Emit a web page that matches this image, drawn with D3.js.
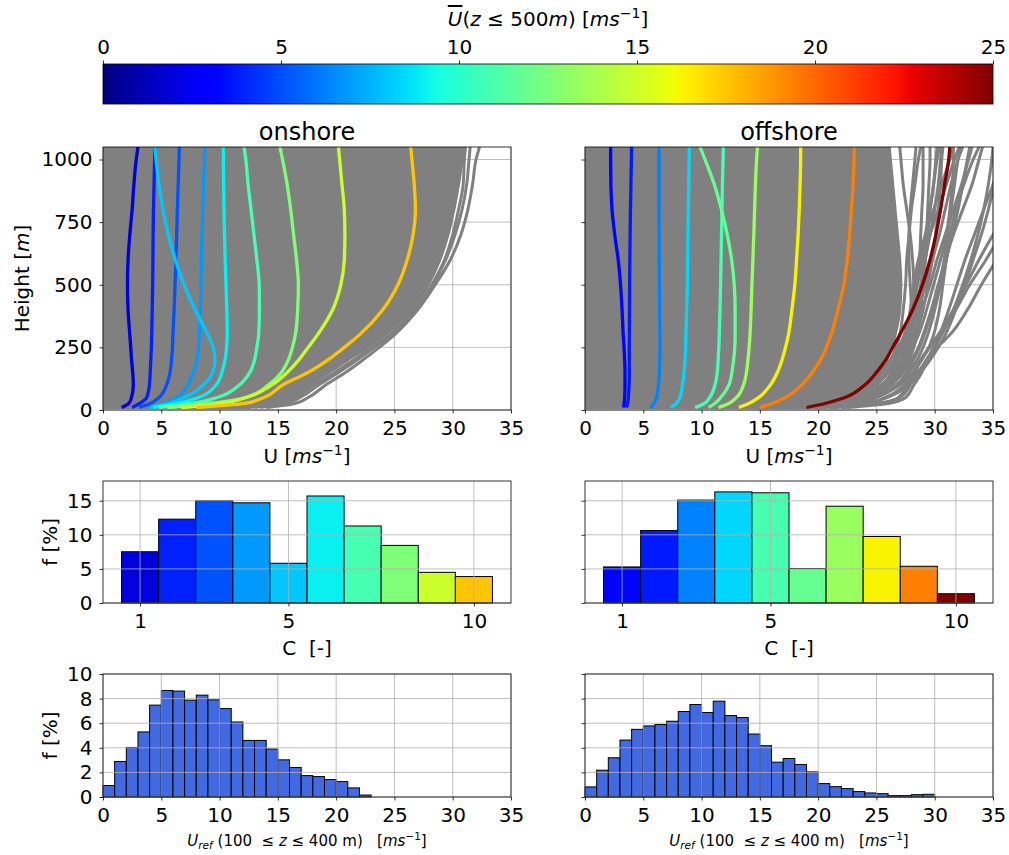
<!DOCTYPE html>
<html>
<head>
<meta charset="utf-8">
<script src="https://cdn.jsdelivr.net/npm/d3@7"></script>
<style>
  body { margin: 0; background: #fff; }
  text { font-family: "DejaVu Sans", sans-serif; fill: #000; }
</style>
</head>
<body>
<svg id="fig" width="1009" height="855"></svg>
<script>
// ---------------------------------------------------------------
// Data
// ---------------------------------------------------------------
// Heights [m] at which every wind profile is given
const heights = [10, 25, 50, 100, 150, 200, 250, 300, 400, 500, 600, 700, 800, 900, 1000, 1050];

// Mean wind speed below 500 m of each cluster (sets the cluster colour)
const onshoreClusterMean  = [2.0, 3.9, 5.1, 6.9, 8.0, 9.0, 10.9, 12.6, 14.9, 17.5];
const offshoreClusterMean = [3.2, 3.75, 6.3, 8.4, 10.9, 11.85, 13.4, 16.3, 19.4, 25.0];

// Cluster-centroid profiles U(z) [m/s], one row per cluster C = 1..10
const onshoreProfiles = [
  [1.6, 2.2, 2.45, 2.6, 2.55, 2.45, 2.38, 2.3, 2.15, 2.1, 2.15, 2.3, 2.5, 2.65, 2.85, 3.0],
  [2.5, 3.1, 3.75, 3.98, 4.05, 4.1, 4.15, 4.18, 4.22, 4.26, 4.28, 4.3, 4.33, 4.38, 4.43, 4.46],
  [3.1, 4.0, 4.8, 5.45, 5.75, 5.88, 5.96, 6.0, 6.1, 6.18, 6.25, 6.32, 6.38, 6.45, 6.52, 6.55],
  [3.9, 5.2, 6.35, 7.3, 7.75, 8.05, 8.2, 8.27, 8.35, 8.4, 8.45, 8.5, 8.56, 8.62, 8.7, 8.75],
  [4.0, 5.5, 7.0, 8.6, 9.4, 9.6, 9.45, 9.0, 7.9, 6.95, 6.2, 5.6, 5.15, 4.8, 4.55, 4.46],
  [4.3, 6.3, 8.2, 9.7, 10.2, 10.47, 10.6, 10.66, 10.62, 10.55, 10.48, 10.42, 10.38, 10.35, 10.33, 10.32],
  [4.8, 7.5, 9.8, 11.7, 12.6, 13.0, 13.2, 13.35, 13.42, 13.4, 13.2, 12.95, 12.7, 12.45, 12.25, 12.1],
  [5.5, 8.9, 12.2, 14.2, 15.3, 15.9, 16.25, 16.5, 16.7, 16.76, 16.6, 16.35, 16.1, 15.8, 15.4, 15.18],
  [6.7, 10.0, 12.3, 14.5, 15.8, 16.8, 17.6, 18.4, 19.7, 20.4, 20.7, 20.75, 20.7, 20.5, 20.3, 20.2],
  [8.0, 12.0, 13.8, 15.4, 17.6, 19.3, 20.7, 22.0, 24.0, 25.3, 26.1, 26.6, 26.8, 26.7, 26.5, 26.4]
];
const offshoreProfiles = [
  [3.3, 3.35, 3.4, 3.43, 3.43, 3.4, 3.35, 3.28, 3.18, 3.05, 2.85, 2.55, 2.32, 2.22, 2.2, 2.2],
  [3.55, 3.65, 3.72, 3.78, 3.8, 3.8, 3.8, 3.81, 3.82, 3.83, 3.85, 3.87, 3.9, 3.94, 3.98, 4.0],
  [5.6, 5.9, 6.15, 6.3, 6.38, 6.42, 6.43, 6.43, 6.4, 6.38, 6.37, 6.36, 6.35, 6.35, 6.35, 6.35],
  [7.35, 7.8, 8.15, 8.35, 8.5, 8.58, 8.63, 8.66, 8.72, 8.78, 8.81, 8.83, 8.86, 8.9, 8.93, 8.95],
  [9.45, 10.2, 10.7, 11.15, 11.35, 11.42, 11.48, 11.52, 11.58, 11.63, 11.67, 11.71, 11.75, 11.79, 11.84, 11.87],
  [10.6, 11.1, 11.65, 12.35, 12.6, 12.75, 12.85, 12.88, 12.88, 12.8, 12.58, 12.2, 11.7, 11.1, 10.3, 9.87],
  [11.45, 12.3, 13.0, 13.6, 13.85, 13.98, 14.08, 14.15, 14.25, 14.32, 14.4, 14.48, 14.55, 14.62, 14.72, 14.8],
  [13.2, 14.0, 14.9, 15.9, 16.5, 16.9, 17.2, 17.45, 17.75, 18.0, 18.15, 18.28, 18.38, 18.45, 18.5, 18.5],
  [15.0, 16.0, 17.2, 18.6, 19.5, 20.2, 20.7, 21.1, 21.7, 22.2, 22.5, 22.7, 22.85, 23.0, 23.08, 23.1],
  [19.0, 20.5, 22.3, 24.0, 25.0, 25.8, 26.4, 27.0, 28.1, 28.95, 29.6, 30.1, 30.5, 30.85, 31.2, 31.3]
];

// Upper edge of the dense bundle of individual profiles (bundle starts at U = 0)
const onshoreBundleEdge  = [12.5, 15.0, 16.2, 17.7, 19.4, 21.0, 22.7, 24.2, 26.5, 27.9, 28.9, 29.6, 30.1, 30.5, 30.8, 30.9];
const offshoreBundleEdge = [19.0, 21.0, 22.8, 24.5, 25.3, 25.9, 26.3, 26.6, 27.0, 27.1, 27.0, 26.8, 26.6, 26.4, 26.2, 26.1];

// Individual profiles outside the dense bundle
const onshoreOuterProfiles = [
  [14.0, 16.4, 17.6, 19.1, 20.8, 22.3, 23.7, 25.0, 27.0, 28.5, 29.8, 30.7, 31.3, 31.7, 32.0, 32.3],
  [13.5, 15.6, 16.9, 18.5, 20.2, 21.8, 23.3, 24.7, 26.8, 28.3, 29.4, 30.2, 30.8, 31.2, 31.4, 31.5],
  [13.0, 15.2, 16.5, 18.1, 19.9, 21.5, 23.1, 24.6, 26.8, 28.2, 29.3, 30.0, 30.5, 30.9, 31.0, 31.1]
];
const offshoreOuterProfiles = [
  [19.0, 21.5, 23.2, 25.0, 26.0, 26.8, 27.3, 27.7, 28.2, 28.5, 28.7, 28.8, 28.9, 29.0, 29.0, 29.0],
  [20.0, 22.5, 24.0, 25.8, 26.8, 27.5, 28.0, 28.4, 29.0, 29.4, 29.8, 30.1, 30.3, 30.5, 30.6, 30.7],
  [19.5, 22.0, 23.8, 25.5, 26.3, 26.8, 27.2, 27.5, 27.9, 28.2, 28.6, 29.2, 29.9, 30.6, 31.3, 31.6],
  [21.0, 23.5, 25.0, 26.8, 27.8, 28.5, 29.0, 29.4, 30.0, 30.5, 31.0, 31.5, 32.0, 32.4, 32.8, 33.0],
  [20.5, 23.0, 24.5, 26.2, 27.2, 27.8, 28.2, 28.5, 28.8, 29.0, 29.2, 29.4, 29.6, 29.9, 30.2, 30.4],
  [22.0, 25.0, 27.0, 27.9, 28.3, 28.8, 29.5, 30.3, 31.6, 32.7, 33.8, 35.0, 36.2, 37.0, 37.5, 37.8],
  [22.5, 25.9, 27.5, 28.2, 28.9, 29.3, 30.2, 31.3, 32.8, 34.0, 35.3, 36.5, 37.5, 38.0, 38.2, 38.3],
  [22.0, 25.0, 26.9, 27.6, 28.2, 28.8, 29.6, 30.4, 31.8, 33.0, 34.4, 35.6, 36.5, 37.0, 37.2, 37.3],
  [21.5, 24.2, 25.8, 27.4, 28.5, 29.3, 30.0, 30.6, 31.6, 32.4, 33.1, 33.7, 34.2, 34.6, 34.9, 35.0],
  [20.0, 22.8, 24.5, 26.3, 27.3, 28.0, 28.6, 29.0, 29.7, 30.3, 30.9, 31.6, 32.4, 33.2, 33.8, 34.1],
  [18.8, 21.5, 23.0, 24.8, 25.8, 26.5, 27.0, 27.4, 28.0, 28.5, 29.0, 29.6, 30.3, 31.0, 31.7, 32.1],
  [19.5, 22.2, 24.0, 25.9, 26.9, 27.6, 28.1, 28.6, 29.3, 29.9, 30.5, 31.0, 31.3, 31.5, 31.6, 31.6],
  [20.5, 23.2, 25.0, 27.0, 28.1, 28.9, 29.5, 29.9, 30.4, 30.7, 31.0, 31.3, 31.8, 32.5, 33.3, 33.8],
  [18.0, 20.8, 22.6, 24.5, 25.5, 26.2, 26.7, 27.0, 27.3, 27.5, 27.6, 27.8, 28.0, 28.3, 28.6, 28.8],
  [21.0, 24.0, 25.8, 27.6, 28.6, 29.3, 29.9, 30.4, 31.2, 31.9, 32.6, 33.4, 34.2, 35.0, 35.6, 36.0],
  [19.0, 21.8, 23.5, 25.4, 26.4, 27.1, 27.6, 28.0, 28.6, 29.2, 29.8, 30.4, 30.9, 31.4, 32.0, 32.4],
  [18.5, 21.0, 22.9, 24.9, 26.0, 26.8, 27.4, 27.8, 28.4, 28.8, 29.1, 29.3, 29.4, 29.5, 29.6, 29.6],
  [19.8, 22.4, 24.2, 26.1, 27.1, 27.7, 28.1, 28.4, 28.7, 28.9, 29.2, 29.6, 30.0, 30.3, 30.5, 30.6],
  [20.2, 22.9, 24.8, 26.7, 27.6, 28.2, 28.7, 29.1, 29.8, 30.4, 30.8, 31.1, 31.4, 31.7, 32.0, 32.2],
  [18.2, 20.6, 22.4, 24.3, 25.4, 26.2, 26.9, 27.4, 28.0, 28.4, 28.8, 29.2, 29.6, 29.9, 30.1, 30.2],
  [21.2, 24.0, 25.9, 27.8, 28.8, 29.6, 30.3, 30.9, 31.8, 32.6, 33.3, 34.0, 34.6, 35.1, 35.5, 35.7],
  [19.2, 21.9, 23.7, 25.6, 26.6, 27.3, 27.8, 28.2, 28.9, 29.6, 30.2, 30.9, 31.6, 32.3, 32.9, 33.2],
  [18.6, 21.2, 23.0, 24.9, 25.9, 26.6, 27.1, 27.5, 28.0, 28.2, 28.1, 27.9, 27.6, 27.3, 27.1, 27.0],
  [19.4, 22.0, 23.8, 25.7, 26.7, 27.3, 27.7, 27.9, 28.0, 27.9, 27.8, 27.8, 27.9, 28.1, 28.3, 28.4]
];

// Cluster frequency f [%] for C = 1..10
const clusterIds = [1, 2, 3, 4, 5, 6, 7, 8, 9, 10];
const onshoreFreq  = [7.52, 12.3, 15.0, 14.7, 5.83, 15.7, 11.3, 8.45, 4.5, 3.88];
const offshoreFreq = [5.29, 10.63, 15.1, 16.3, 16.17, 5.05, 14.2, 9.76, 5.39, 1.36];

// Histogram of U_ref in 1 m/s bins starting at 0
const onshoreUrefFreq = [0.93, 2.89, 4.03, 5.29, 7.47, 8.66, 8.61, 7.87, 8.28, 7.90, 7.19, 6.10,
  4.60, 4.60, 3.90, 3.02, 2.40, 1.74, 1.66, 1.42, 1.25, 0.74, 0.16];
const offshoreUrefFreq = [0.82, 2.18, 3.19, 4.63, 5.50, 5.78, 5.89, 6.16, 6.95, 7.52, 6.87, 7.79,
  6.62, 6.46, 5.12, 4.17, 2.83, 3.13, 2.64, 2.04, 1.09, 0.84, 0.68, 0.44, 0.33, 0.27, 0.11, 0.11,
  0.19, 0.22];

// Tick values
const speedTicks   = [0, 5, 10, 15, 20, 25, 30, 35];
const heightTicks  = [0, 250, 500, 750, 1000];
const clusterTicks = [1, 5, 10];
const freqTicks    = [0, 5, 10, 15];
const urefFreqTicks = [0, 2, 4, 6, 8, 10];
const colorbarTicks = [0, 5, 10, 15, 20, 25];

// ---------------------------------------------------------------
// Jet colour map
// ---------------------------------------------------------------
const jetR = [[0, 0], [0.35, 0], [0.66, 1], [0.89, 1], [1, 0.5]];
const jetG = [[0, 0], [0.125, 0], [0.375, 1], [0.64, 1], [0.91, 0], [1, 0]];
const jetB = [[0, 0.5], [0.11, 1], [0.34, 1], [0.65, 0], [1, 0]];
function channel(seg, t) {
  t = Math.max(0, Math.min(1, t));
  for (let i = 1; i < seg.length; i++) {
    if (t <= seg[i][0]) {
      const [x0, y0] = seg[i - 1], [x1, y1] = seg[i];
      return y0 + (y1 - y0) * (t - x0) / (x1 - x0);
    }
  }
  return seg[seg.length - 1][1];
}
function jet(t) {
  return d3.rgb(255 * channel(jetR, t), 255 * channel(jetG, t), 255 * channel(jetB, t)).formatHex();
}
const colorScale = d3.scaleLinear().domain([0, 25]).range([0, 1]);
const clusterColor = u => jet(colorScale(u));

// ---------------------------------------------------------------
// Layout
// ---------------------------------------------------------------
const svg = d3.select("#fig");
const cols = [{ x0: 103, x1: 511 }, { x0: 585, x1: 993 }];
const rowTop = { y0: 147, y1: 410 };
const rowMid = { y0: 481, y1: 603 };
const rowBot = { y0: 674, y1: 797 };
const TICK = 3.5, PAD = 7, FS = 20;
const gridColor = "#b0b0b0";
const fmt = d3.format("d");

function styleAxis(g, showLabels) {
  g.select(".domain").remove();
  g.selectAll(".tick line").attr("stroke", "#000").attr("stroke-width", 0.8);
  g.selectAll(".tick text").attr("font-size", FS).attr("font-family", "DejaVu Sans").attr("fill", "#000");
  if (!showLabels) g.selectAll(".tick text").remove();
}
function frame(g, c, r) {
  g.append("rect").attr("x", c.x0).attr("y", r.y0).attr("width", c.x1 - c.x0).attr("height", r.y1 - r.y0)
    .attr("fill", "none").attr("stroke", "#000").attr("stroke-width", 0.8);
}
function grid(g, x, y, xt, yt, c, r) {
  const gg = g.append("g");
  gg.selectAll("line.v").data(xt).join("line")
    .attr("x1", d => x(d)).attr("x2", d => x(d)).attr("y1", r.y0).attr("y2", r.y1)
    .attr("stroke", gridColor).attr("stroke-width", 0.8);
  gg.selectAll("line.h").data(yt).join("line")
    .attr("x1", c.x0).attr("x2", c.x1).attr("y1", d => y(d)).attr("y2", d => y(d))
    .attr("stroke", gridColor).attr("stroke-width", 0.8);
}
function axes(g, x, y, xt, yt, r, yLabels) {
  const ax = g.append("g").attr("transform", `translate(0,${r.y1})`)
    .call(d3.axisBottom(x).tickValues(xt).tickFormat(fmt).tickSizeInner(TICK).tickSizeOuter(0).tickPadding(PAD));
  styleAxis(ax, true);
  const ay = g.append("g").attr("transform", `translate(${x.range()[0]},0)`)
    .call(d3.axisLeft(y).tickValues(yt).tickFormat(fmt).tickSizeInner(TICK).tickSizeOuter(0).tickPadding(PAD));
  styleAxis(ay, yLabels);
}

// Unit label "[ms^-1]" appended as tspans
function appendUnit(t, fs) {
  t.append("tspan").text("[");
  t.append("tspan").attr("font-style", "italic").text("ms");
  t.append("tspan").attr("font-size", fs * 0.7).attr("dy", -fs * 0.4).text("−1");
  t.append("tspan").attr("dy", fs * 0.4).text("]");
}

// ---------------------------------------------------------------
// Colour bar
// ---------------------------------------------------------------
const cb = { x0: 103, x1: 993, y0: 64, y1: 104 };
const defs = svg.append("defs");
const grad = defs.append("linearGradient").attr("id", "jetGrad").attr("x1", "0%").attr("x2", "100%");
d3.range(0, 1.0001, 0.01).forEach(t => {
  grad.append("stop").attr("offset", `${t * 100}%`).attr("stop-color", jet(t));
});
svg.append("rect").attr("x", cb.x0).attr("y", cb.y0).attr("width", cb.x1 - cb.x0).attr("height", cb.y1 - cb.y0)
  .attr("fill", "url(#jetGrad)").attr("stroke", "#000").attr("stroke-width", 0.8);
const cbScale = d3.scaleLinear().domain([0, 25]).range([cb.x0, cb.x1]);
const cbAxis = svg.append("g").attr("transform", `translate(0,${cb.y0})`)
  .call(d3.axisTop(cbScale).tickValues(colorbarTicks).tickFormat(fmt).tickSizeInner(TICK).tickSizeOuter(0).tickPadding(PAD));
styleAxis(cbAxis, true);
{
  const t = svg.append("text").attr("x", (cb.x0 + cb.x1) / 2).attr("y", 26).attr("text-anchor", "middle")
    .attr("font-size", FS).style("white-space", "pre");
  t.append("tspan").attr("font-style", "italic").style("text-decoration", "overline").text("U");
  t.append("tspan").text("(");
  t.append("tspan").attr("font-style", "italic").text("z");
  t.append("tspan").text(" ≤ 500");
  t.append("tspan").attr("font-style", "italic").text("m");
  t.append("tspan").text(") ");
  appendUnit(t, FS);
}

// ---------------------------------------------------------------
// Row 1: wind profiles
// ---------------------------------------------------------------
const profileSets = [
  { title: "onshore", profiles: onshoreProfiles, means: onshoreClusterMean, edge: onshoreBundleEdge, outer: onshoreOuterProfiles },
  { title: "offshore", profiles: offshoreProfiles, means: offshoreClusterMean, edge: offshoreBundleEdge, outer: offshoreOuterProfiles }
];
profileSets.forEach((set, i) => {
  const c = cols[i];
  const g = svg.append("g");
  const x = d3.scaleLinear().domain([0, 35]).range([c.x0, c.x1]);
  const y = d3.scaleLinear().domain([0, 1050]).range([rowTop.y1, rowTop.y0]);
  const clipId = `clipTop${i}`;
  defs.append("clipPath").attr("id", clipId).append("rect")
    .attr("x", c.x0).attr("y", rowTop.y0).attr("width", c.x1 - c.x0).attr("height", rowTop.y1 - rowTop.y0);

  grid(g, x, y, speedTicks, heightTicks, c, rowTop);

  const plot = g.append("g").attr("clip-path", `url(#${clipId})`);
  const grey = "#808080";

  // dense bundle of individual profiles
  const bundle = d3.area().curve(d3.curveMonotoneY)
    .y(d => y(d.z)).x0(() => x(0)).x1(d => x(d.u));
  plot.append("path").datum(heights.map((z, k) => ({ z, u: set.edge[k] })))
    .attr("d", bundle).attr("fill", grey).attr("stroke", grey).attr("stroke-width", 3);

  const line = d3.line().curve(d3.curveMonotoneY).x(d => x(d.u)).y(d => y(d.z));
  set.outer.forEach(p => {
    plot.append("path").datum(heights.map((z, k) => ({ z, u: p[k] })))
      .attr("d", line).attr("fill", "none").attr("stroke", grey).attr("stroke-width", 3)
      .attr("stroke-linejoin", "round");
  });

  // cluster centroids
  set.profiles.forEach((p, k) => {
    plot.append("path").datum(heights.map((z, j) => ({ z, u: p[j] })))
      .attr("d", line).attr("fill", "none").attr("stroke", clusterColor(set.means[k]))
      .attr("stroke-width", 3.3).attr("stroke-linejoin", "round");
  });

  frame(g, c, rowTop);
  axes(g, x, y, speedTicks, heightTicks, rowTop, i === 0);

  g.append("text").attr("x", (c.x0 + c.x1) / 2).attr("y", 140).attr("text-anchor", "middle")
    .attr("font-size", 24).text(set.title);

  const xl = g.append("text").attr("x", (c.x0 + c.x1) / 2).attr("y", 463).attr("text-anchor", "middle")
    .attr("font-size", FS).style("white-space", "pre");
  xl.append("tspan").text("U ");
  appendUnit(xl, FS);

  if (i === 0) {
    const yl = g.append("text").attr("transform", `translate(29,${(rowTop.y0 + rowTop.y1) / 2}) rotate(-90)`)
      .attr("text-anchor", "middle").attr("font-size", FS);
    yl.append("tspan").text("Height [");
    yl.append("tspan").attr("font-style", "italic").text("m");
    yl.append("tspan").text("]");
  }
});

// ---------------------------------------------------------------
// Row 2: cluster frequency
// ---------------------------------------------------------------
[[onshoreFreq, onshoreClusterMean], [offshoreFreq, offshoreClusterMean]].forEach(([freq, means], i) => {
  const c = cols[i];
  const g = svg.append("g");
  const x = d3.scaleLinear().domain([0, 11]).range([c.x0, c.x1]);
  const y = d3.scaleLinear().domain([0, 17.9]).range([rowMid.y1, rowMid.y0]);

  g.selectAll("rect.bar").data(clusterIds).join("rect")
    .attr("x", d => x(d - 0.5)).attr("width", d => x(d + 0.5) - x(d - 0.5))
    .attr("y", (d, k) => y(freq[k])).attr("height", (d, k) => y(0) - y(freq[k]))
    .attr("fill", (d, k) => clusterColor(means[k])).attr("stroke", "#000").attr("stroke-width", 1);

  grid(g, x, y, clusterTicks, freqTicks, c, rowMid);
  frame(g, c, rowMid);
  axes(g, x, y, clusterTicks, freqTicks, rowMid, i === 0);

  g.append("text").attr("x", (c.x0 + c.x1) / 2).attr("y", 655).attr("text-anchor", "middle")
    .attr("font-size", FS).style("white-space", "pre").text("C  [-]");
  if (i === 0) {
    g.append("text").attr("transform", `translate(57,${(rowMid.y0 + rowMid.y1) / 2}) rotate(-90)`)
      .attr("text-anchor", "middle").attr("font-size", FS).text("f [%]");
  }
});

// ---------------------------------------------------------------
// Row 3: reference wind speed histograms
// ---------------------------------------------------------------
[onshoreUrefFreq, offshoreUrefFreq].forEach((freq, i) => {
  const c = cols[i];
  const g = svg.append("g");
  const x = d3.scaleLinear().domain([0, 35]).range([c.x0, c.x1]);
  const y = d3.scaleLinear().domain([0, 10]).range([rowBot.y1, rowBot.y0]);

  g.selectAll("rect.bar").data(freq).join("rect")
    .attr("x", (d, k) => x(k)).attr("width", (d, k) => x(k + 1) - x(k))
    .attr("y", d => y(d)).attr("height", d => y(0) - y(d))
    .attr("fill", "#4169e1").attr("stroke", "#000").attr("stroke-width", 1);

  grid(g, x, y, speedTicks, urefFreqTicks, c, rowBot);
  frame(g, c, rowBot);
  axes(g, x, y, speedTicks, urefFreqTicks, rowBot, i === 0);

  const fs = 15;
  const t = g.append("text").attr("x", (c.x0 + c.x1) / 2).attr("y", 846).attr("text-anchor", "middle")
    .attr("font-size", fs).style("white-space", "pre");
  t.append("tspan").attr("font-style", "italic").text("U");
  t.append("tspan").attr("font-style", "italic").attr("font-size", fs * 0.7).attr("dy", 3).text("ref");
  t.append("tspan").attr("dy", -3).text(" (100  ≤ ");
  t.append("tspan").attr("font-style", "italic").text("z");
  t.append("tspan").text(" ≤ 400 m)   ");
  appendUnit(t, fs);

  if (i === 0) {
    g.append("text").attr("transform", `translate(57,${(rowBot.y0 + rowBot.y1) / 2}) rotate(-90)`)
      .attr("text-anchor", "middle").attr("font-size", FS).text("f [%]");
  }
});
</script>
</body>
</html>
